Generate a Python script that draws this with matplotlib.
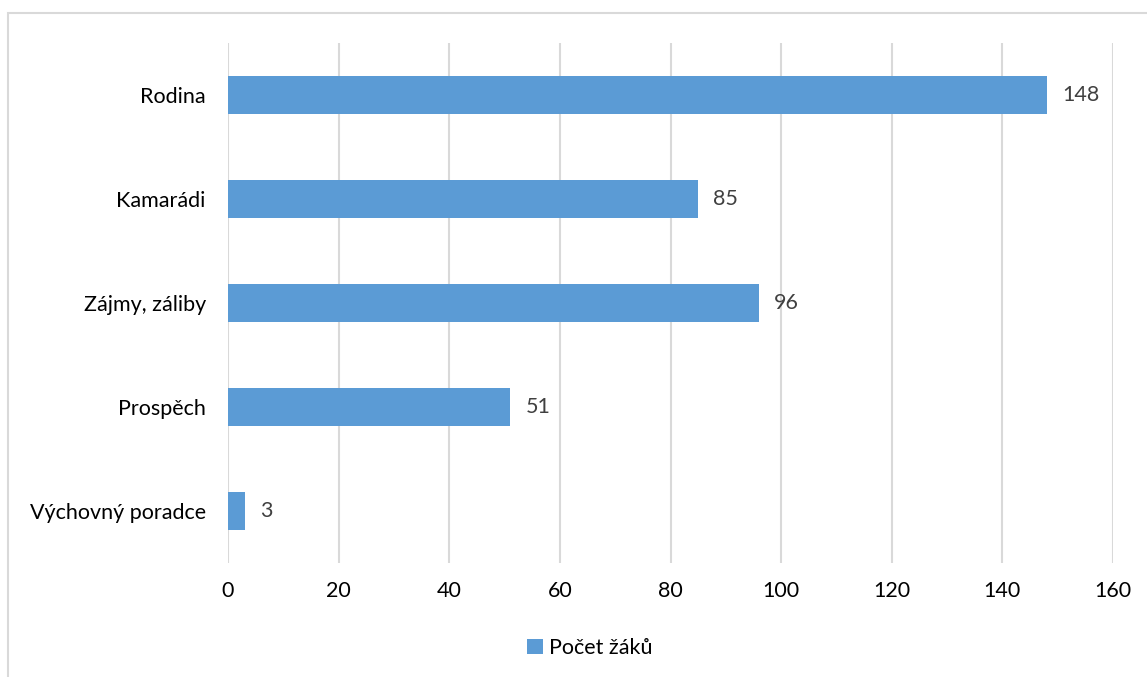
import matplotlib.pyplot as plt
from matplotlib.patches import Rectangle

categories = ['Rodina', 'Kamarádi', 'Zájmy, záliby', 'Prospěch', 'Výchovný poradce']
values = [148, 85, 96, 51, 3]
series_name = 'Počet žáků'
xticks = [0, 20, 40, 60, 80, 100, 120, 140, 160]

plt.rcParams['font.family'] = ['Lato', 'DejaVu Sans']

W, H = 1147, 677
fig = plt.figure(figsize=(W / 100, H / 100), dpi=100)

# chart border (light gray), partly cut off at right/bottom
fig.add_artist(Rectangle((8 / W, -0.05), 1.2, 1 - 13 / H + 0.05, transform=fig.transFigure,
                         fill=False, edgecolor='#d9d9d9', linewidth=1.5))

ax = fig.add_axes([228 / W, 1 - 563 / H, (1113 - 228) / W, (563 - 43) / H])

ypos = list(range(len(categories)))
bars = ax.barh(ypos, values, height=0.36, color='#5b9bd5', zorder=3, label=series_name)
ax.set_ylim(len(categories) - 0.5, -0.5)
ax.set_xlim(0, 160)
ax.set_xticks(xticks)
ax.set_yticks(ypos)
ax.set_yticklabels(categories)

ax.xaxis.grid(True, color='#d9d9d9', linewidth=1.5, zorder=0)
for s in ax.spines.values():
    s.set_visible(False)
ax.tick_params(axis='both', length=0, labelsize=15.5, labelcolor='#000000')
ax.tick_params(axis='x', pad=13)
ax.tick_params(axis='y', pad=16)

for b, v in zip(bars, values):
    ax.annotate(str(v), (b.get_width(), b.get_y() + b.get_height() / 2),
                xytext=(11, 0), textcoords='offset points', va='center', ha='left',
                fontsize=15.5, color='#404040')

fig.legend(handles=[bars], labels=[series_name], loc='center', bbox_to_anchor=(590 / W, 1 - 648 / H),
           frameon=False, fontsize=15.5, handlelength=0.7, handleheight=0.7, handletextpad=0.3)

fig.savefig('out.png', dpi=100)
